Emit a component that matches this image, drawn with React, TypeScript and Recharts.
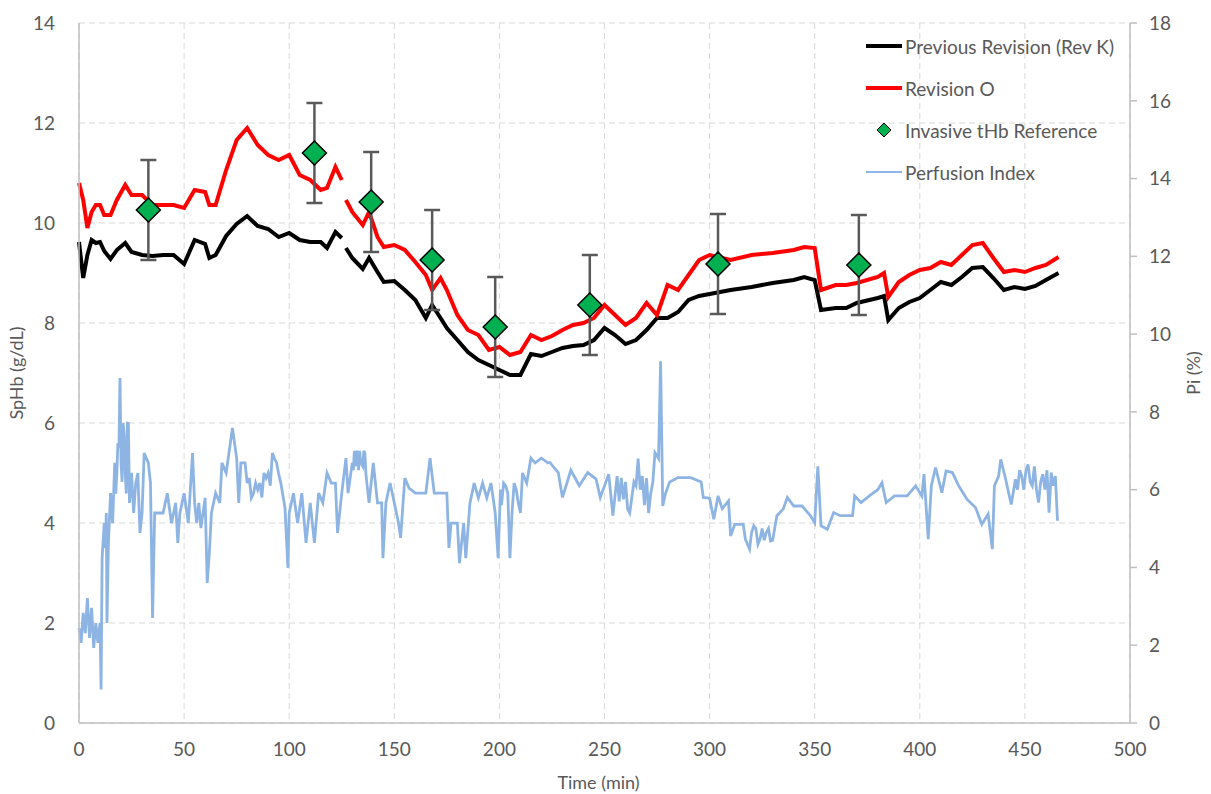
import { ComposedChart, Line, Scatter, ErrorBar, XAxis, YAxis, CartesianGrid, Legend } from 'recharts';

// SpHb trend samples (min, g/dL); null marks the gap in the recording
const revTimes = [0, 2, 4, 6, 8, 10, 12, 15, 18, 22, 25, 30, 35, 40, 45, 50, 55, 60, 62, 65, 70, 75, 80, 85, 90, 95, 100, 105, 110, 115, 118, 122, 125, 126, 127, 130, 135, 138, 142, 145, 150, 155, 160, 165, 168, 172, 175, 180, 185, 190, 195, 200, 205, 210, 215, 220, 225, 230, 235, 240, 245, 250, 255, 260, 265, 270, 275, 280, 285, 290, 295, 300, 310, 320, 330, 340, 345, 350, 353, 360, 365, 370, 380, 383, 385, 390, 395, 400, 405, 410, 415, 420, 425, 430, 435, 440, 445, 450, 455, 460, 466];
const prevRevK = [9.62, 8.9, 9.36, 9.66, 9.6, 9.62, 9.44, 9.28, 9.46, 9.6, 9.42, 9.36, 9.34, 9.36, 9.36, 9.18, 9.66, 9.58, 9.3, 9.36, 9.74, 9.98, 10.14, 9.94, 9.88, 9.72, 9.8, 9.66, 9.62, 9.62, 9.5, 9.82, 9.7, null, 9.5, 9.3, 9.08, 9.3, 9.02, 8.82, 8.84, 8.66, 8.46, 8.1, 8.36, 8.1, 7.9, 7.66, 7.42, 7.26, 7.16, 7.06, 6.96, 6.96, 7.38, 7.34, 7.42, 7.5, 7.54, 7.56, 7.66, 7.9, 7.76, 7.58, 7.66, 7.86, 8.1, 8.1, 8.22, 8.46, 8.54, 8.58, 8.66, 8.72, 8.8, 8.86, 8.92, 8.86, 8.26, 8.3, 8.3, 8.4, 8.5, 8.54, 8.06, 8.3, 8.42, 8.5, 8.66, 8.82, 8.76, 8.92, 9.1, 9.12, 8.9, 8.66, 8.72, 8.68, 8.74, 8.86, 9.0];
const revO = [10.8, 10.46, 9.9, 10.22, 10.36, 10.36, 10.16, 10.16, 10.46, 10.76, 10.56, 10.56, 10.36, 10.36, 10.36, 10.3, 10.66, 10.62, 10.36, 10.36, 11.06, 11.66, 11.9, 11.56, 11.36, 11.26, 11.36, 10.96, 10.86, 10.66, 10.7, 11.12, 10.86, null, 10.46, 10.22, 9.96, 10.22, 9.72, 9.52, 9.56, 9.46, 9.22, 8.96, 8.66, 8.9, 8.66, 8.16, 7.86, 7.76, 7.46, 7.52, 7.36, 7.42, 7.76, 7.66, 7.74, 7.86, 7.96, 8.0, 8.1, 8.36, 8.16, 7.96, 8.1, 8.4, 8.16, 8.76, 8.66, 8.96, 9.26, 9.36, 9.26, 9.36, 9.4, 9.46, 9.52, 9.5, 8.66, 8.76, 8.76, 8.8, 8.92, 9.0, 8.52, 8.82, 8.96, 9.06, 9.1, 9.22, 9.16, 9.36, 9.56, 9.6, 9.3, 9.02, 9.06, 9.02, 9.1, 9.16, 9.32];

// invasive reference draws
const refTimes = [33, 112, 139, 168, 198, 243, 304, 371];
const refValues = [10.26, 11.4, 10.42, 9.26, 7.92, 8.36, 9.18, 9.16];
const refError = [1, 1, 1, 1, 1, 1, 1, 1];

// perfusion index (%), right axis
const piTimes = [0, 1, 2, 3, 4, 5, 6, 7, 8, 9, 10, 10.5, 11, 12, 12.5, 13, 13.3, 14, 15, 16, 17, 18, 19, 19.5, 20, 21, 22, 23, 24, 25, 26, 27, 28, 29, 30, 31, 33, 34, 35, 36, 38, 40, 42, 44, 46, 47, 48, 50, 52, 54, 55, 56, 57, 58, 60, 61, 62, 63, 65, 67, 68, 70, 72, 73, 75, 76, 77, 79, 80, 82, 84, 86, 88, 90, 92, 94, 96, 98, 99.4, 100, 102, 104, 106, 108, 110, 112, 114, 116, 118, 120, 122, 123, 125, 127, 128, 130, 132, 134, 136, 138, 140, 142, 144, 144.6, 146, 148, 150, 152, 153, 155, 157, 160, 165, 167, 169, 175, 176, 177, 180, 181, 183, 184, 186, 188, 190, 192, 194, 196, 198, 199.4, 202, 204, 205, 207, 209, 211, 213, 215, 217, 220, 223, 224, 228, 230, 234, 238, 242, 246, 248, 252, 254, 256, 259, 262, 264, 266, 268, 271, 273, 274, 275.7, 276.7, 277.7, 279, 281, 285, 291, 296, 297, 300, 302, 304, 306, 309, 310, 312, 316, 317, 319, 321, 324, 327, 329, 332, 335, 337, 340, 344, 348, 350, 351.5, 353, 356, 359, 362, 368, 369, 372, 376, 380, 382, 384, 388, 394, 398, 401, 402, 404, 405.5, 407.5, 410.5, 412.5, 415.5, 418.5, 422.5, 426.5, 429.5, 432.5, 434.5, 435.5, 437.5, 438.5, 440.5, 443.5, 445.5, 448.5, 451.5, 453.5, 456.5, 458.5, 461.5, 462.5, 464.5, 465.5];
const piValues = [2.44, 2.06, 2.83, 2.31, 3.21, 2.19, 2.96, 1.93, 2.57, 2.06, 2.57, 0.86, 4.24, 5.14, 4.5, 5.4, 2.57, 4.63, 5.91, 5.14, 6.69, 6.43, 7.07, 8.87, 6.69, 7.71, 6.43, 7.71, 5.66, 6.43, 5.4, 6.17, 6.43, 4.89, 5.4, 6.94, 6.69, 6.17, 2.7, 5.4, 5.4, 5.4, 5.91, 5.14, 5.66, 4.63, 5.4, 5.91, 5.14, 6.94, 5.66, 5.14, 5.66, 5.01, 5.79, 3.6, 4.37, 5.4, 5.91, 5.66, 6.69, 6.43, 7.2, 7.59, 6.81, 5.66, 6.69, 6.69, 6.17, 5.79, 6.17, 6.17, 6.43, 6.43, 6.94, 6.69, 6.17, 5.53, 3.99, 5.4, 5.91, 5.14, 5.91, 4.63, 5.66, 4.63, 5.91, 5.66, 6.43, 6.17, 6.17, 4.89, 5.91, 6.81, 5.91, 6.69, 6.94, 6.69, 6.94, 5.66, 6.69, 5.66, 5.66, 4.24, 5.66, 6.17, 5.66, 5.14, 4.76, 6.3, 6.04, 5.91, 5.91, 6.81, 5.91, 5.91, 4.5, 5.14, 5.14, 4.11, 5.14, 4.24, 5.66, 6.17, 5.79, 6.17, 5.79, 6.17, 5.4, 4.24, 6.17, 5.91, 4.24, 6.17, 5.66, 6.43, 6.17, 6.81, 6.69, 6.81, 6.69, 6.7, 6.44, 5.8, 6.5, 6.1, 6.44, 6.27, 5.8, 6.4, 5.33, 6.35, 5.75, 5.4, 6.2, 6.8, 6.35, 5.4, 6.2, 6.95, 6.8, 9.3, 5.58, 5.9, 6.2, 6.31, 6.31, 6.2, 5.8, 5.78, 5.24, 5.84, 5.51, 5.71, 4.81, 5.11, 5.11, 4.73, 4.47, 5.07, 4.73, 4.9, 4.68, 5.33, 5.5, 5.8, 5.58, 5.58, 5.33, 5.15, 6.6, 5.07, 4.98, 5.41, 5.33, 5.33, 5.84, 5.67, 5.84, 6.0, 6.18, 5.67, 5.84, 5.84, 6.1, 5.84, 6.4, 4.73, 6.1, 6.57, 5.92, 6.48, 6.44, 6.1, 5.75, 5.54, 5.11, 5.37, 4.47, 6.1, 6.35, 6.78, 6.35, 5.62, 6.27, 6.35, 6.65, 6.1, 5.67, 6.4, 5.41, 6.44, 6.35, 5.2];
// extra readings in the noisiest stretches of the PI trace
const piExtraTimes = [17.5, 18.5, 20.5, 21.5, 22.5, 23.5, 24.5, 81, 83, 85, 87, 89, 91, 93, 95, 130.5, 131, 131.5, 132.5, 133, 133.5, 135, 135.5, 136.5, 200.5, 201, 203, 206, 208, 210, 257, 258, 260, 261, 263, 265, 267, 269, 270, 272, 320, 322, 323, 325, 326, 328, 330, 446.5, 447.5, 449.5, 450.5, 452.5, 454.5, 455.5, 457.5, 459.5, 460.5, 463.5];
const piExtraValues = [5.9, 7.2, 6.2, 7.4, 5.9, 7.7, 6.0, 6.3, 5.9, 6.0, 5.8, 6.3, 6.1, 6.8, 6.4, 6.5, 7.0, 6.6, 7.0, 6.5, 7.0, 6.6, 7.0, 6.4, 6.0, 5.6, 6.1, 5.4, 6.0, 5.4, 5.7, 6.3, 6.2, 5.5, 5.8, 6.1, 6.0, 5.6, 6.3, 5.9, 4.9, 5.0, 4.6, 5.0, 4.7, 5.0, 4.7, 6.0, 6.5, 6.0, 6.5, 6.2, 6.6, 6.0, 6.2, 6.0, 6.5, 6.1];

const xTicks = [0, 50, 100, 150, 200, 250, 300, 350, 400, 450, 500];
const leftTicks = [0, 2, 4, 6, 8, 10, 12, 14];
const rightTicks = [0, 2, 4, 6, 8, 10, 12, 14, 16, 18];

const revData = revTimes.map((t, i) => ({ t, prev: prevRevK[i], revO: revO[i] }));
const refData = refTimes.map((t, i) => ({ t, ref: refValues[i], err: refError[i] }));
const piData = [
  ...piTimes.map((t, i) => ({ t, pi: piValues[i] })),
  ...piExtraTimes.map((t, i) => ({ t, pi: piExtraValues[i] })),
].sort((a, b) => a.t - b.t);

const FONT = "Lato, 'Open Sans', sans-serif";
const TEXT = '#595959';
const AXIS = '#bfbfbf';

const Diamond = (props: any) => {
  const { cx, cy } = props;
  const r = 12;
  return (
    <polygon
      points={`${cx},${cy - r} ${cx + r},${cy} ${cx},${cy + r} ${cx - r},${cy}`}
      fill="#00B050"
      stroke="#000"
      strokeWidth={1.5}
    />
  );
};

const legendItems = [
  { label: 'Previous Revision (Rev K)', type: 'line', color: '#000', width: 4 },
  { label: 'Revision O', type: 'line', color: '#FF0000', width: 4 },
  { label: 'Invasive tHb Reference', type: 'diamond', color: '#00B050', width: 0 },
  { label: 'Perfusion Index', type: 'line', color: '#8EB4E3', width: 2 },
];

const renderLegend = () => (
  <div style={{ fontFamily: FONT, fontSize: 19, color: TEXT, whiteSpace: 'nowrap' }}>
    {legendItems.map((item) => (
      <div key={item.label} style={{ display: 'flex', alignItems: 'center', height: 42 }}>
        <svg width={40} height={20} style={{ marginRight: 1 }}>
          {item.type === 'line' ? (
            <line x1={2} y1={10} x2={38} y2={10} stroke={item.color} strokeWidth={item.width} />
          ) : (
            <polygon points="20,3 27,10 20,17 13,10" fill={item.color} stroke="#000" strokeWidth={1} />
          )}
        </svg>
        <span>{item.label}</span>
      </div>
    ))}
  </div>
);

export default function App() {
  return (
    <div style={{ position: 'absolute', left: 0, top: 0, width: 1211, height: 794, background: '#fff' }}>
      <ComposedChart width={1211} height={794} margin={{ top: 23, right: 0, bottom: 0, left: 0 }}>
        <CartesianGrid yAxisId="left" strokeDasharray="6 4" stroke="#d9d9d9" />
        <XAxis
          dataKey="t"
          type="number"
          domain={[0, 500]}
          ticks={xTicks}
          height={71}
          tickLine={false}
          axisLine={{ stroke: AXIS, strokeWidth: 1.5 }}
          tick={{ fill: TEXT, fontSize: 19, fontFamily: FONT }}
          tickMargin={14}
          allowDuplicatedCategory={false}
          label={{ value: 'Time (min)', position: 'insideBottom', offset: 5, dx: -6, fill: TEXT, fontSize: 18, fontFamily: FONT }}
        />
        <YAxis
          yAxisId="left"
          domain={[0, 14]}
          ticks={leftTicks}
          width={79}
          tickLine={false}
          axisLine={{ stroke: AXIS, strokeWidth: 1.5 }}
          tick={{ fill: TEXT, fontSize: 19, fontFamily: FONT }}
          tickMargin={18}
          label={{ value: 'SpHb (g/dL)', angle: -90, position: 'insideLeft', dx: 12, fill: TEXT, fontSize: 18, fontFamily: FONT, style: { textAnchor: 'middle' } }}
        />
        <YAxis
          yAxisId="right"
          orientation="right"
          domain={[0, 18]}
          ticks={rightTicks}
          width={81}
          tickSize={7}
          tickLine={{ stroke: AXIS, strokeWidth: 1.5 }}
          axisLine={{ stroke: AXIS, strokeWidth: 1.5 }}
          tick={{ fill: TEXT, fontSize: 19, fontFamily: FONT }}
          tickMargin={12}
          label={{ value: 'Pi (%)', angle: -90, position: 'insideRight', dx: -12, fill: TEXT, fontSize: 18, fontFamily: FONT, style: { textAnchor: 'middle' } }}
        />
        <Legend
          layout="vertical"
          verticalAlign="middle"
          align="center"
          content={renderLegend}
          wrapperStyle={{ top: 25, left: 864, width: 320 }}
        />
        <Line
          yAxisId="right"
          data={piData}
          dataKey="pi"
          type="linear"
          stroke="#8EB4E3"
          strokeWidth={2.8}
          dot={false}
          isAnimationActive={false}
        />
        <Line
          yAxisId="left"
          data={revData}
          dataKey="prev"
          type="linear"
          stroke="#000"
          strokeWidth={4}
          dot={false}
          connectNulls={false}
          isAnimationActive={false}
        />
        <Line
          yAxisId="left"
          data={revData}
          dataKey="revO"
          type="linear"
          stroke="#FF0000"
          strokeWidth={4}
          dot={false}
          connectNulls={false}
          isAnimationActive={false}
        />
        <Scatter yAxisId="left" data={refData} dataKey="ref" shape={<Diamond />} isAnimationActive={false}>
          <ErrorBar dataKey="err" direction="y" width={8} stroke="#595959" strokeWidth={2.5} />
        </Scatter>
      </ComposedChart>
    </div>
  );
}
